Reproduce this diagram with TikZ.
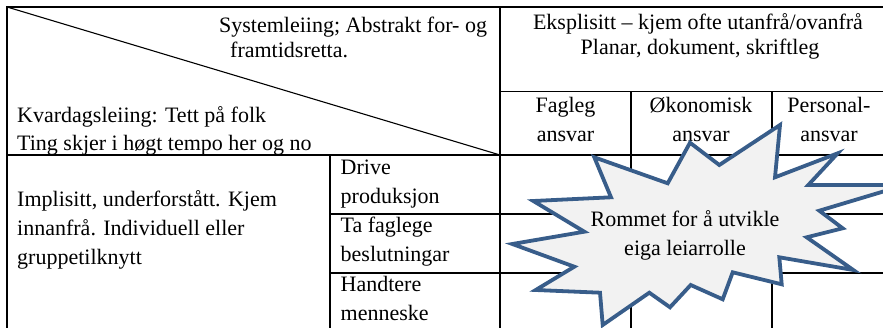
\documentclass[tikz,border=0pt]{standalone}
\usepackage{fontspec}
\setmainfont{Liberation Serif}
\definecolor{burstline}{HTML}{385D8A}
\definecolor{burstfill}{HTML}{F2F2F2}
\begin{document}
\begin{tikzpicture}[x=1pt,y=-1pt,
  grid/.style={line width=1.1pt,black},
  txt/.style={inner sep=0pt,font=\fontsize{22}{26}\selectfont},
  lt/.style={txt,anchor=base west},
  ct/.style={txt,anchor=base},
  burst/.style={draw=burstline,fill=burstfill,line width=3.8pt,line join=miter}]
\useasboundingbox (0,0) rectangle (883,328);
% table frame
\coordinate (tl) at (7,7);
\coordinate (tr) at (890,7);
\coordinate (bl) at (7,335);
\coordinate (hc) at (500,155);
\draw[grid] (bl) -- (tl) -- (tr);
\draw[grid] (tl) -- (hc);
\draw[grid] (500,7) -- (500,335);
\draw[grid] (7,155) -- (890,155);
\draw[grid] (500,91.5) -- (890,91.5);
\draw[grid] (631,91.5) -- (631,335);
\draw[grid] (772,91.5) -- (772,335);
\draw[grid] (330,155) -- (330,335);
\draw[grid] (330,214) -- (890,214);
\draw[grid] (330,273) -- (890,273);
% corner cell
\node[lt] (s1) at (219,33) {Systemleiing; Abstrakt for- og};
\node[lt] (s2) at (230,58) {framtidsretta.};
\node[lt] (k1) at (17,123) {Kvardagsleiing: Tett på folk};
\node[lt] (k2) at (17,151) {Ting skjer i høgt tempo her og no};
% top header
\node[ct] (e1) at (698,30) {Eksplisitt – kjem ofte utanfrå/ovanfrå};
\node[ct] (e2) at (700,55) {Planar, dokument, skriftleg};
% column headers
\node[ct] (f1) at (565.5,113) {Fagleg};
\node[ct] (f2) at (565.5,141.5) {ansvar};
\node[ct] (o1) at (701,113) {Økonomisk};
\node[ct] (o2) at (701,141.5) {ansvar};
\node[ct] (p1) at (829,113) {Personal-};
\node[ct] (p2) at (829,141.5) {ansvar};
% left body
\node[lt] (i1) at (17,207) {Implisitt, underforstått. Kjem};
\node[lt] (i2) at (17,236) {innanfrå. Individuell eller};
\node[lt] (i3) at (17,264.5) {gruppetilknytt};
% row labels
\node[lt] (r1a) at (340.5,175) {Drive};
\node[lt] (r1b) at (340.5,203.5) {produksjon};
\node[lt] (r2a) at (340.5,233) {Ta faglege};
\node[lt] (r2b) at (340.5,261.5) {beslutningar};
\node[lt] (r3a) at (340.5,292) {Handtere};
\node[lt] (r3b) at (340.5,321) {menneske};
% starburst
\draw[burst] (594.3,157.3) -- (611,197.3) -- (533.3,201) -- (584.3,231.7)
  -- (512.3,244) -- (574.3,266.7) -- (535.7,290) -- (600,292.7)
  -- (602.7,325) -- (649.3,292.7) -- (670,307.3) -- (690.7,285)
  -- (722.7,299.3) -- (732.7,272.3) -- (781.7,284.3) -- (779.3,257.3)
  -- (853.3,270) -- (806.7,237.3) -- (842.7,228.3) -- (819.3,210.7)
  -- (905,185) -- (808.3,185) -- (837.7,153.3) -- (775,177.3)
  -- (780,125) -- (719.3,165) -- (690,142.7) -- (667.7,183.3) -- cycle;
\node[ct] (b1) at (685,226.7) {Rommet for å utvikle};
\node[ct] (b2) at (685,255.5) {eiga leiarrolle};
\end{tikzpicture}
\end{document}
